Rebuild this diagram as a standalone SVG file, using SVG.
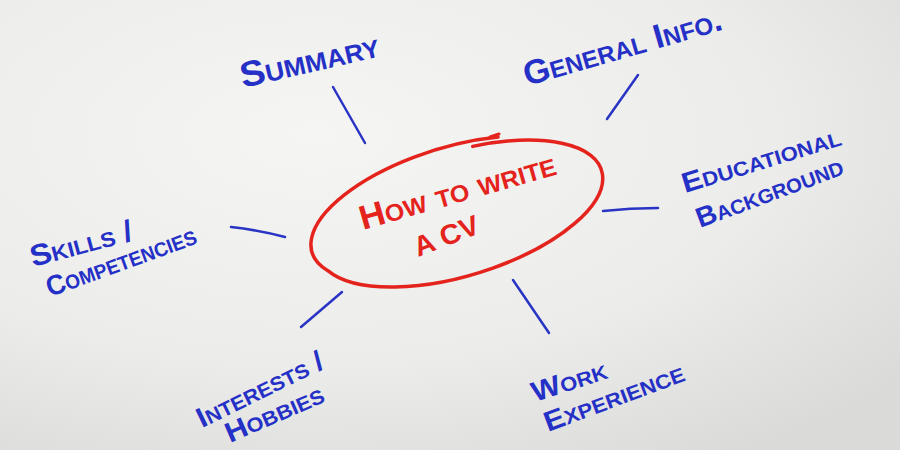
<svg xmlns="http://www.w3.org/2000/svg" width="900" height="450" viewBox="0 0 900 450">
<defs>
<radialGradient id="bg" cx="0.35" cy="0.3" r="0.85">
<stop offset="0" stop-color="#f5f5f4"/>
<stop offset="0.6" stop-color="#ececeb"/>
<stop offset="1" stop-color="#dadad9"/>
</radialGradient>
<style>
.lbl{font-family:"Liberation Sans","DejaVu Sans",sans-serif;font-weight:bold;font-variant:small-caps;fill:#2430c6;}
.ctr{font-family:"Liberation Sans","DejaVu Sans",sans-serif;font-weight:bold;font-variant:small-caps;fill:#e5231d;}
.con{stroke:#2a34c4;stroke-width:2.5;stroke-linecap:round;fill:none;}
</style>
</defs>
<rect x="0" y="0" width="900" height="450" fill="url(#bg)"/>
<g id="connectors">
<line class="con" x1="333" y1="87" x2="365" y2="143"/>
<line class="con" x1="638" y1="75" x2="607" y2="119"/>
<path class="con" d="M603,211 Q630,208 658,208"/>
<path class="con" d="M231,227 Q258,230 285,237"/>
<line class="con" x1="342" y1="292" x2="301" y2="327"/>
<line class="con" x1="513" y1="280" x2="549" y2="333"/>
</g>
<g id="center">
<path d="M498,137 A148,62 -17 0 0 328.2,270.9 A148,62 -17 1 0 472.7,146.4" fill="none" stroke="#e5231d" stroke-width="3.5" stroke-linecap="round"/>
<path d="M490,137 L499,134" fill="none" stroke="#e5231d" stroke-width="3" stroke-linecap="round"/>
<text class="ctr" font-size="34" transform="translate(363,230) rotate(-16)" textLength="203" lengthAdjust="spacingAndGlyphs">How to write</text>
<text class="ctr" font-size="28" transform="translate(418,257) rotate(-21)" textLength="68" lengthAdjust="spacingAndGlyphs">A CV</text>
</g>
<g id="summary">
<text class="lbl" font-size="36" transform="translate(243,88) rotate(-13)" textLength="142" lengthAdjust="spacingAndGlyphs">Summary</text>
</g>
<g id="general-info">
<text class="lbl" font-size="34" transform="translate(527,86) rotate(-16)" textLength="205" lengthAdjust="spacingAndGlyphs">General Info.</text>
</g>
<g id="educational-background">
<text class="lbl" font-size="28" transform="translate(685,193) rotate(-17)" textLength="165" lengthAdjust="spacingAndGlyphs">Educational</text>
<text class="lbl" font-size="28" transform="translate(700,228) rotate(-20.5)" textLength="155" lengthAdjust="spacingAndGlyphs">Background</text>
</g>
<g id="skills-competencies">
<text class="lbl" font-size="30" transform="translate(33,267) rotate(-15)" textLength="105" lengthAdjust="spacingAndGlyphs">Skills /</text>
<text class="lbl" font-size="28" transform="translate(50,297) rotate(-20)" textLength="158" lengthAdjust="spacingAndGlyphs">Competencies</text>
</g>
<g id="interests-hobbies">
<text class="lbl" font-size="28" transform="translate(202,428) rotate(-26)" textLength="138" lengthAdjust="spacingAndGlyphs">Interests /</text>
<text class="lbl" font-size="28" transform="translate(230,443) rotate(-23.5)" textLength="105" lengthAdjust="spacingAndGlyphs">Hobbies</text>
</g>
<g id="work-experience">
<text class="lbl" font-size="28" transform="translate(535,402) rotate(-18)" textLength="78" lengthAdjust="spacingAndGlyphs">Work</text>
<text class="lbl" font-size="28" transform="translate(548,432) rotate(-20.5)" textLength="148" lengthAdjust="spacingAndGlyphs">Experience</text>
</g>
</svg>
